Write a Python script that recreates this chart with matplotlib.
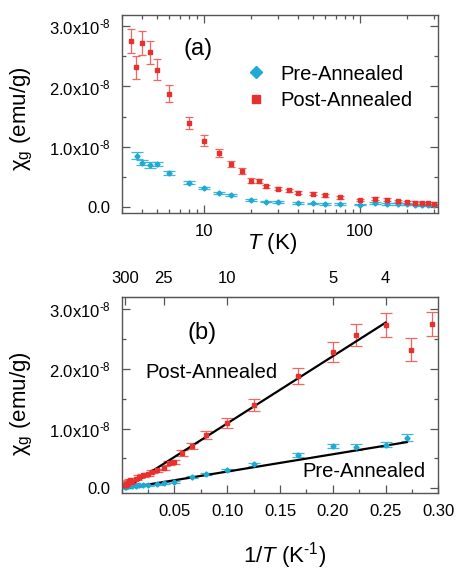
import numpy as np
import matplotlib
matplotlib.use("Agg")
import matplotlib.pyplot as plt
from matplotlib.ticker import (FixedLocator, FixedFormatter, MultipleLocator,
                               LogLocator, NullFormatter, FuncFormatter)
from matplotlib.lines import Line2D

plt.rcParams['font.family'] = ['Liberation Sans', 'DejaVu Sans']
plt.rcParams['mathtext.fontset'] = 'custom'
plt.rcParams['mathtext.rm'] = 'Liberation Sans'
plt.rcParams['mathtext.it'] = 'Liberation Sans:italic'
plt.rcParams['mathtext.bf'] = 'Liberation Sans:bold'

SCALE = 1e-8  # susceptibility values below are in units of 1e-8 emu/g

# Post-annealed sample
T_post = [3.4, 3.65, 4, 4.5, 5, 6, 8, 10, 12.5, 15, 17.5, 20, 22.5, 25, 30, 35,
          40, 50, 60, 75, 100, 125, 150, 175, 200, 225, 250, 275, 300]
chi_post = [2.75, 2.32, 2.73, 2.57, 2.28, 1.88, 1.40, 1.10, 0.89, 0.71, 0.59,
            0.435, 0.43, 0.34, 0.30, 0.275, 0.235, 0.215, 0.19, 0.155, 0.11,
            0.135, 0.115, 0.093, 0.072, 0.065, 0.06, 0.055, 0.05]
err_post = [0.20, 0.19, 0.20, 0.19, 0.17, 0.14, 0.10, 0.085, 0.07, 0.055, 0.05,
            0.035, 0.035, 0.028, 0.025, 0.025, 0.025, 0.025, 0.025, 0.022, 0.022,
            0.022, 0.022, 0.022, 0.022, 0.022, 0.022, 0.022, 0.022]

# Pre-annealed sample
T_pre = [3.7, 4, 4.5, 5, 6, 8, 10, 12.5, 15, 20, 25, 30, 40, 50, 60, 75, 100,
         125, 150, 175, 200, 225, 250, 275, 300]
chi_pre = [0.85, 0.73, 0.69, 0.71, 0.56, 0.40, 0.31, 0.233, 0.195, 0.106, 0.085,
           0.073, 0.056, 0.054, 0.05, 0.039, 0.035, 0.056, 0.05, 0.045, 0.04,
           0.035, 0.03, 0.028, 0.025]
err_pre = [0.06, 0.045, 0.045, 0.04, 0.03, 0.025, 0.02, 0.018, 0.015, 0.015,
           0.015, 0.015, 0.015, 0.015, 0.015, 0.015, 0.015, 0.015, 0.015, 0.015,
           0.015, 0.015, 0.015, 0.015, 0.015]

# Linear Curie-law fits, chi = C * (1/T) + chi0  (in 1e-8 units)
fit_post = dict(C=11.25, chi0=-0.0375, T_min=300, T_max=4)
fit_pre = dict(C=2.9, chi0=-0.01, T_min=300, T_max=3.7)

y_ticks = [0.0, 1.0, 2.0, 3.0]
y_ticklabels = ['0.0', r'1.0x10$^{\text{-8}}$', r'2.0x10$^{\text{-8}}$',
                r'3.0x10$^{\text{-8}}$']
top_T_ticks = [300, 25, 10, 5, 4]

RED = '#E8302E'
RED_E = '#F06660'
BLUE = '#1FA9D3'
BLUE_E = '#3DB8DD'
SPINE = '#555555'

T_post = np.array(T_post, float)
T_pre = np.array(T_pre, float)
chi_post = np.array(chi_post) * SCALE
chi_pre = np.array(chi_pre) * SCALE
err_post = np.array(err_post) * SCALE
err_pre = np.array(err_pre) * SCALE

fig = plt.figure(figsize=(4.57, 5.71), dpi=100)
ax1 = fig.add_axes([0.2663, 0.6265, 0.6928, 0.3473])
ax2 = fig.add_axes([0.2663, 0.1366, 0.6928, 0.3438])


def style_axes(ax):
    for s in ax.spines.values():
        s.set_color(SPINE)
        s.set_linewidth(1.0)
    ax.tick_params(which='both', direction='in', colors=SPINE, labelcolor='black',
                   labelsize=12, pad=8, width=0.9)
    ax.tick_params(which='major', length=6)
    ax.tick_params(which='minor', length=3.2)
    ax.yaxis.set_major_locator(FixedLocator([v * SCALE for v in y_ticks]))
    ax.yaxis.set_major_formatter(FixedFormatter(y_ticklabels))
    ax.yaxis.set_minor_locator(MultipleLocator(0.5 * SCALE))


# ---- (a) chi vs T on a log axis ----
ax1.errorbar(T_pre, chi_pre, yerr=err_pre, fmt='D', ms=2.6, color=BLUE,
             ecolor=BLUE_E, elinewidth=0.9, capsize=4.3, capthick=0.9)
ax1.errorbar(T_post, chi_post, yerr=err_post, fmt='s', ms=2.6, color=RED,
             ecolor=RED_E, elinewidth=0.9, capsize=3.0, capthick=0.9)
ax1.set_xscale('log')
ax1.set_xlim(2.97, 318)
ax1.set_ylim(-0.11 * SCALE, 3.19 * SCALE)
style_axes(ax1)
ax1.tick_params(which='both', top=True, right=True)
ax1.xaxis.set_major_locator(LogLocator(base=10))
ax1.xaxis.set_major_formatter(FuncFormatter(lambda v, p: f'{v:g}'))
ax1.xaxis.set_minor_locator(LogLocator(base=10, subs=np.arange(2, 10)))
ax1.xaxis.set_minor_formatter(NullFormatter())
ax1.set_xlabel('$T$ (K)', fontsize=16)
ax1.xaxis.set_label_coords(0.475, -0.09)
ax1.set_ylabel('χ$_{\\rm g}$ (emu/g)', fontsize=16)
ax1.yaxis.set_label_coords(-0.274, 0.479)
ax1.text(0.241, 0.829, '(a)', transform=ax1.transAxes, fontsize=17,
         ha='center', va='center')

handles = [Line2D([], [], ls='none', marker='D', ms=6, color=BLUE),
           Line2D([], [], ls='none', marker='s', ms=6, color=RED)]
ax1.legend(handles, ['Pre-Annealed', 'Post-Annealed'], loc='upper left',
           bbox_to_anchor=(0.392, 0.75), frameon=False, fontsize=14.5,
           handlelength=1.0, handletextpad=0.7, labelspacing=0.35, borderpad=0,
           borderaxespad=0)

# ---- (b) chi vs 1/T ----
ax2.errorbar(1 / T_pre, chi_pre, yerr=err_pre, fmt='D', ms=2.6, color=BLUE,
             ecolor=BLUE_E, elinewidth=0.9, capsize=4.3, capthick=0.9)
ax2.errorbar(1 / T_post, chi_post, yerr=err_post, fmt='s', ms=2.6, color=RED,
             ecolor=RED_E, elinewidth=0.9, capsize=4.0, capthick=0.9)
for fit in (fit_post, fit_pre):
    x = np.array([1 / fit['T_min'], 1 / fit['T_max']])
    ax2.plot(x, (fit['C'] * x + fit['chi0']) * SCALE, color='black', lw=1.6)
ax2.set_xlim(0, 0.30)
ax2.set_ylim(-0.079 * SCALE, 3.21 * SCALE)
style_axes(ax2)
ax2.tick_params(which='both', right=True)
ax2.xaxis.set_major_locator(FixedLocator([0.05, 0.10, 0.15, 0.20, 0.25, 0.30]))
ax2.xaxis.set_major_formatter(FixedFormatter(['0.05', '0.10', '0.15', '0.20', '0.25', '0.30']))
ax2.xaxis.set_minor_locator(MultipleLocator(0.025))
ax2.set_xlabel(r'1/$T$ (K$^{\text{-1}}$)', fontsize=16)
ax2.xaxis.set_label_coords(0.516, -0.242)
ax2.set_ylabel('χ$_{\\rm g}$ (emu/g)', fontsize=16)
ax2.yaxis.set_label_coords(-0.274, 0.453)
ax2.text(0.254, 0.815, '(b)', transform=ax2.transAxes, fontsize=17,
         ha='center', va='center')
ax2.text(0.283, 0.616, 'Post-Annealed', transform=ax2.transAxes, fontsize=14.5,
         ha='center', va='center')
ax2.text(0.765, 0.107, 'Pre-Annealed', transform=ax2.transAxes, fontsize=14.5,
         ha='center', va='center')

top = ax2.secondary_xaxis('top')
top.set_xticks([1 / t for t in top_T_ticks], labels=[str(t) for t in top_T_ticks])
top.tick_params(direction='in', length=6, width=0.9, colors=SPINE,
                labelcolor='black', labelsize=12, pad=8)
top.spines['top'].set_color(SPINE)

fig.savefig('out.png', dpi=100)
